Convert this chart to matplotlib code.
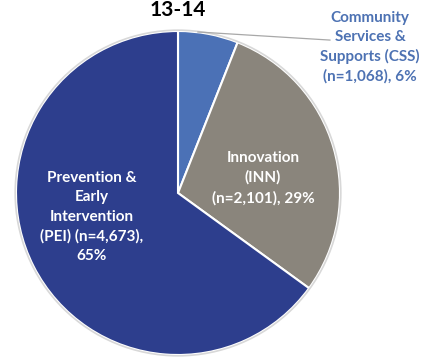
import matplotlib.pyplot as plt

# Data (slices drawn from the shown percentages)
labels = ['Community\nServices &\nSupports (CSS)\n(n=1,068), 6%',
          'Innovation\n(INN)\n(n=2,101), 29%',
          'Prevention &\nEarly\nIntervention\n(PEI) (n=4,673),\n65%']
percents = [6, 29, 65]
colors = ['#4b71b6', '#8a857c', '#2d3e8d']
title = '13-14'

fig = plt.figure(figsize=(4.27, 3.58), dpi=100)
ax = fig.add_axes([0, 0, 1, 1])

wedges, _ = ax.pie(percents, colors=colors, startangle=90, counterclock=False,
                   radius=1.0,
                   wedgeprops=dict(edgecolor='white', linewidth=1.5))

# outer thin border
circle = plt.Circle((0, 0), 1.005, fill=False, edgecolor='#d8d8d8', linewidth=1.2)
ax.add_patch(circle)

font = 'Lato'
ax.text(0.525, 0.093, labels[1], ha='center', va='center', ma='center', color='white',
        fontsize=11, fontweight='bold', family=font, linespacing=1.5)
ax.text(-0.531, -0.148, labels[2], ha='center', va='center', ma='center', color='white',
        fontsize=11, fontweight='bold', family=font, linespacing=1.5)
ax.text(1.185, 0.90, labels[0], ha='center', va='center', ma='center', color='#4d72b3',
        fontsize=11, fontweight='bold', family=font, linespacing=1.45)
ax.plot([0.123, 0.938], [0.994, 0.944], color='#a8a8a8', linewidth=0.9)

ax.text(0.0, 193 / 162, title, ha='center', va='top', fontsize=15,
        fontweight='bold', family=font, color='black')

ax.set_xlim(-178 / 162, (427 - 178) / 162)
ax.set_ylim(-(358 - 193) / 162, 193 / 162)
ax.set_aspect('equal')
ax.axis('off')

fig.savefig('out.png', dpi=100)
